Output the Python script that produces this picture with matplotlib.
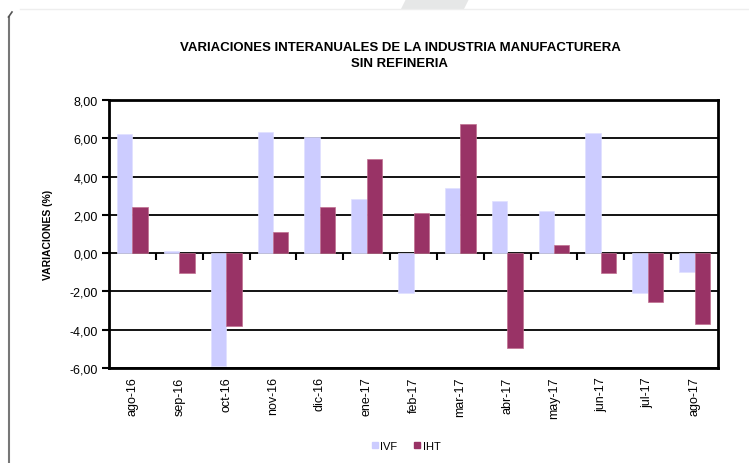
import matplotlib.pyplot as plt
from matplotlib.patches import Polygon
from matplotlib.lines import Line2D
import numpy as np

plt.rcParams['font.family'] = ['Liberation Sans', 'DejaVu Sans']

# data
meses = ['ago-16', 'sep-16', 'oct-16', 'nov-16', 'dic-16', 'ene-17', 'feb-17',
         'mar-17', 'abr-17', 'may-17', 'jun-17', 'jul-17', 'ago-17']
ivf = [6.22, 0.10, -5.92, 6.32, 6.05, 2.84, -2.06, 3.40, 2.75, 2.21, 6.27, -2.06, -0.98]
iht = [2.39, -1.03, -3.83, 1.10, 2.39, 4.93, 2.09, 6.76, -4.98, 0.45, -1.03, -2.54, -3.68]
yticks = [-6, -4, -2, 0, 2, 4, 6, 8]

fig = plt.figure(figsize=(7.49, 4.64), dpi=100)
ax = fig.add_axes([109 / 749, 95 / 464, 609 / 749, 268 / 464])

x = np.arange(len(meses))
w = 0.33
ax.bar(x - w / 2, ivf, w, color='#ccccff', edgecolor='#e0e0ff', linewidth=0.5, zorder=3, label='IVF')
ax.bar(x + w / 2, iht, w, color='#993366', edgecolor='#c07090', linewidth=0.5, zorder=3, label='IHT')

ax.set_xlim(-0.5, len(meses) - 0.5)
ax.set_ylim(-6, 8)
ax.set_yticks(yticks)
ax.yaxis.set_major_formatter(plt.FuncFormatter(lambda v, p: ('%.2f' % v).replace('.', ',')))
ax.tick_params(axis='y', length=5, width=1.5, pad=3, labelsize=9)
ax.grid(axis='y', color='black', linewidth=1.3, zorder=1)

ax.set_xticks(x)
ax.set_xticklabels(meses, rotation=90, fontsize=9)
ax.tick_params(axis='x', length=0, pad=6)

for s in ax.spines.values():
    s.set_linewidth(2)

# category boundary ticks on the zero line
sec = ax.secondary_xaxis((0 - (-6)) / 14)
sec.set_xticks(np.arange(len(meses) - 1) + 0.5)
sec.set_xticklabels([])
sec.tick_params(length=5, width=1.5, direction='out')
sec.spines['bottom'].set_visible(False)

ax.set_ylabel('VARIACIONES (%)', fontsize=7.5, fontweight='bold', labelpad=12)

fig.text(0.534, 0.879, 'VARIACIONES INTERANUALES DE LA INDUSTRIA MANUFACTURERA\nSIN REFINERIA',
         ha='center', va='center', fontsize=9.5, fontweight='bold', linespacing=1.4)

fig.legend(handles=[
    Line2D([], [], marker='s', color='none', markerfacecolor='#ccccff', markeredgecolor='#ccccff', markersize=5, label='IVF'),
    Line2D([], [], marker='s', color='none', markerfacecolor='#993366', markeredgecolor='#993366', markersize=5, label='IHT')],
    loc='center', bbox_to_anchor=(406 / 749, 1 - 447 / 464), ncol=2, frameon=False,
    fontsize=8, handlelength=0.6, handletextpad=0.2, columnspacing=1.5)

# page decorations
fig.add_artist(Line2D([8.5 / 749, 8.5 / 749], [0, 1 - 18 / 464], color='#777777', linewidth=1.5))
fig.add_artist(Line2D([8.5 / 749, 12 / 749], [1 - 18 / 464, 1 - 13 / 464], color='#555555', linewidth=1.2))
fig.add_artist(Line2D([20 / 749, 1], [1 - 10 / 464, 1 - 10 / 464], color='#eeeeee', linewidth=1))
fig.add_artist(Polygon([[406 / 749, 1], [469 / 749, 1], [464 / 749, 1 - 10 / 464], [401 / 749, 1 - 10 / 464]],
                       closed=True, facecolor='#e6e7e7', edgecolor='none', transform=fig.transFigure))

fig.savefig('out.png', dpi=100)
